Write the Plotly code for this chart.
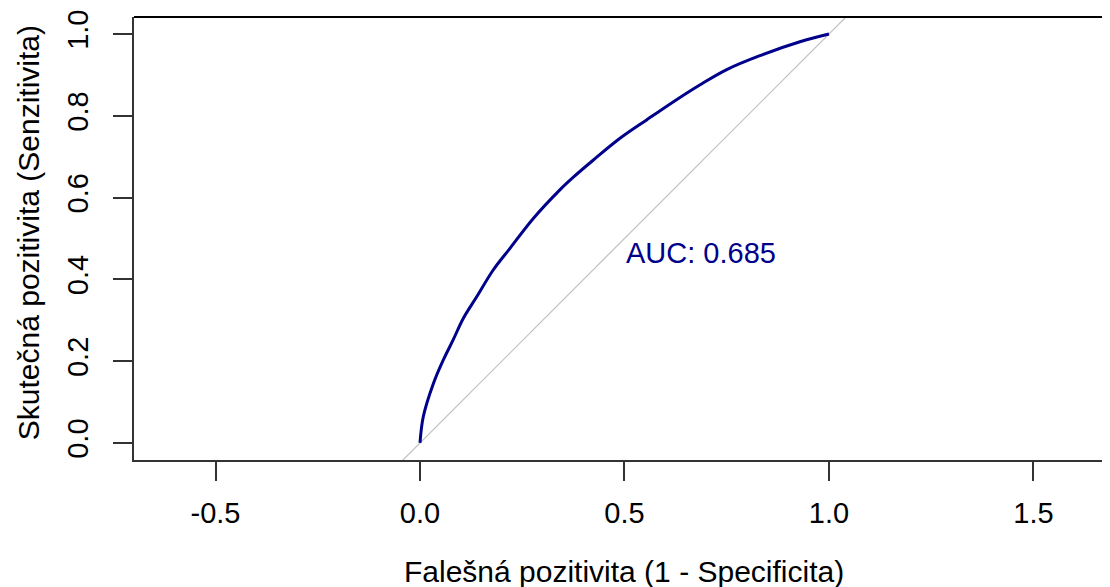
import plotly.graph_objects as go

# ROC curve points (false positive rate, true positive rate)
fpr = [0.0, 0.008, 0.033, 0.057, 0.081, 0.106, 0.139, 0.179, 0.220, 0.277,
       0.342, 0.375, 0.424, 0.489, 0.554, 0.619, 0.685, 0.750, 0.831, 0.929, 1.0]
tpr = [0.0, 0.064, 0.146, 0.203, 0.252, 0.305, 0.358, 0.423, 0.476, 0.549,
       0.619, 0.650, 0.692, 0.745, 0.790, 0.834, 0.876, 0.913, 0.947, 0.981, 1.0]
diag = [-1.0, 2.0]
auc_value = 0.685
x_ticks = [-0.5, 0.0, 0.5, 1.0, 1.5]
x_labels = ["-0.5", "0.0", "0.5", "1.0", "1.5"]
y_ticks = [0.0, 0.2, 0.4, 0.6, 0.8, 1.0]
y_labels = ["0.0", "0.2", "0.4", "0.6", "0.8", "1.0"]

FONT = "Liberation Sans, Arial, sans-serif"
BLUE = "#00008B"

fig = go.Figure()
fig.add_trace(go.Scatter(x=diag, y=diag, mode="lines",
                         line=dict(color="#BEBEBE", width=1.2), hoverinfo="skip"))
fig.add_trace(go.Scatter(x=fpr, y=tpr, mode="lines",
                         line=dict(color=BLUE, width=3, shape="spline", smoothing=1.0)))

fig.add_annotation(x=0.5, y=0.465, xref="x", yref="y", text=f"AUC: {auc_value:.3f}",
                   showarrow=False, xanchor="left", yanchor="middle",
                   font=dict(family=FONT, size=29, color=BLUE))
fig.add_annotation(x=0.502, y=0, xref="paper", yref="paper", yshift=-111,
                   text="Falešná pozitivita (1 - Specificita)", showarrow=False,
                   xanchor="center", yanchor="middle",
                   font=dict(family=FONT, size=30, color="black"))
fig.add_annotation(x=-0.1086, y=0.512, xref="paper", yref="paper", textangle=-90,
                   text="Skutečná pozitivita (Senzitivita)", showarrow=False,
                   xanchor="center", yanchor="middle",
                   font=dict(family=FONT, size=30, color="black"))

# top border of the box
fig.add_shape(type="line", xref="paper", yref="paper", x0=0, x1=1, y0=1, y1=1,
              line=dict(color="black", width=2))

fig.update_layout(
    width=1102, height=579,
    margin=dict(l=126, r=0, t=9, b=127),
    paper_bgcolor="white", plot_bgcolor="white",
    showlegend=False,
    font=dict(family=FONT, size=30, color="black"),
    xaxis=dict(range=[-0.6993, 1.6871], tickvals=x_ticks, ticktext=x_labels,
               ticks="outside", ticklen=19, tickwidth=1.5, tickcolor="#333",
               ticklabelstandoff=7,
               showline=True, linecolor="#333", linewidth=1.5,
               showgrid=False, zeroline=False,
               tickfont=dict(family=FONT, size=29, color="black")),
    yaxis=dict(range=[-0.0416, 1.0416], tickvals=y_ticks, ticktext=y_labels,
               ticks="outside", ticklen=19, tickwidth=1.5, tickcolor="#333",
               ticklabelstandoff=14,
               showline=True, linecolor="#333", linewidth=1.5,
               showgrid=False, zeroline=False, tickangle=-90,
               tickfont=dict(family=FONT, size=29, color="black")),
)

fig.write_html("out.html")
